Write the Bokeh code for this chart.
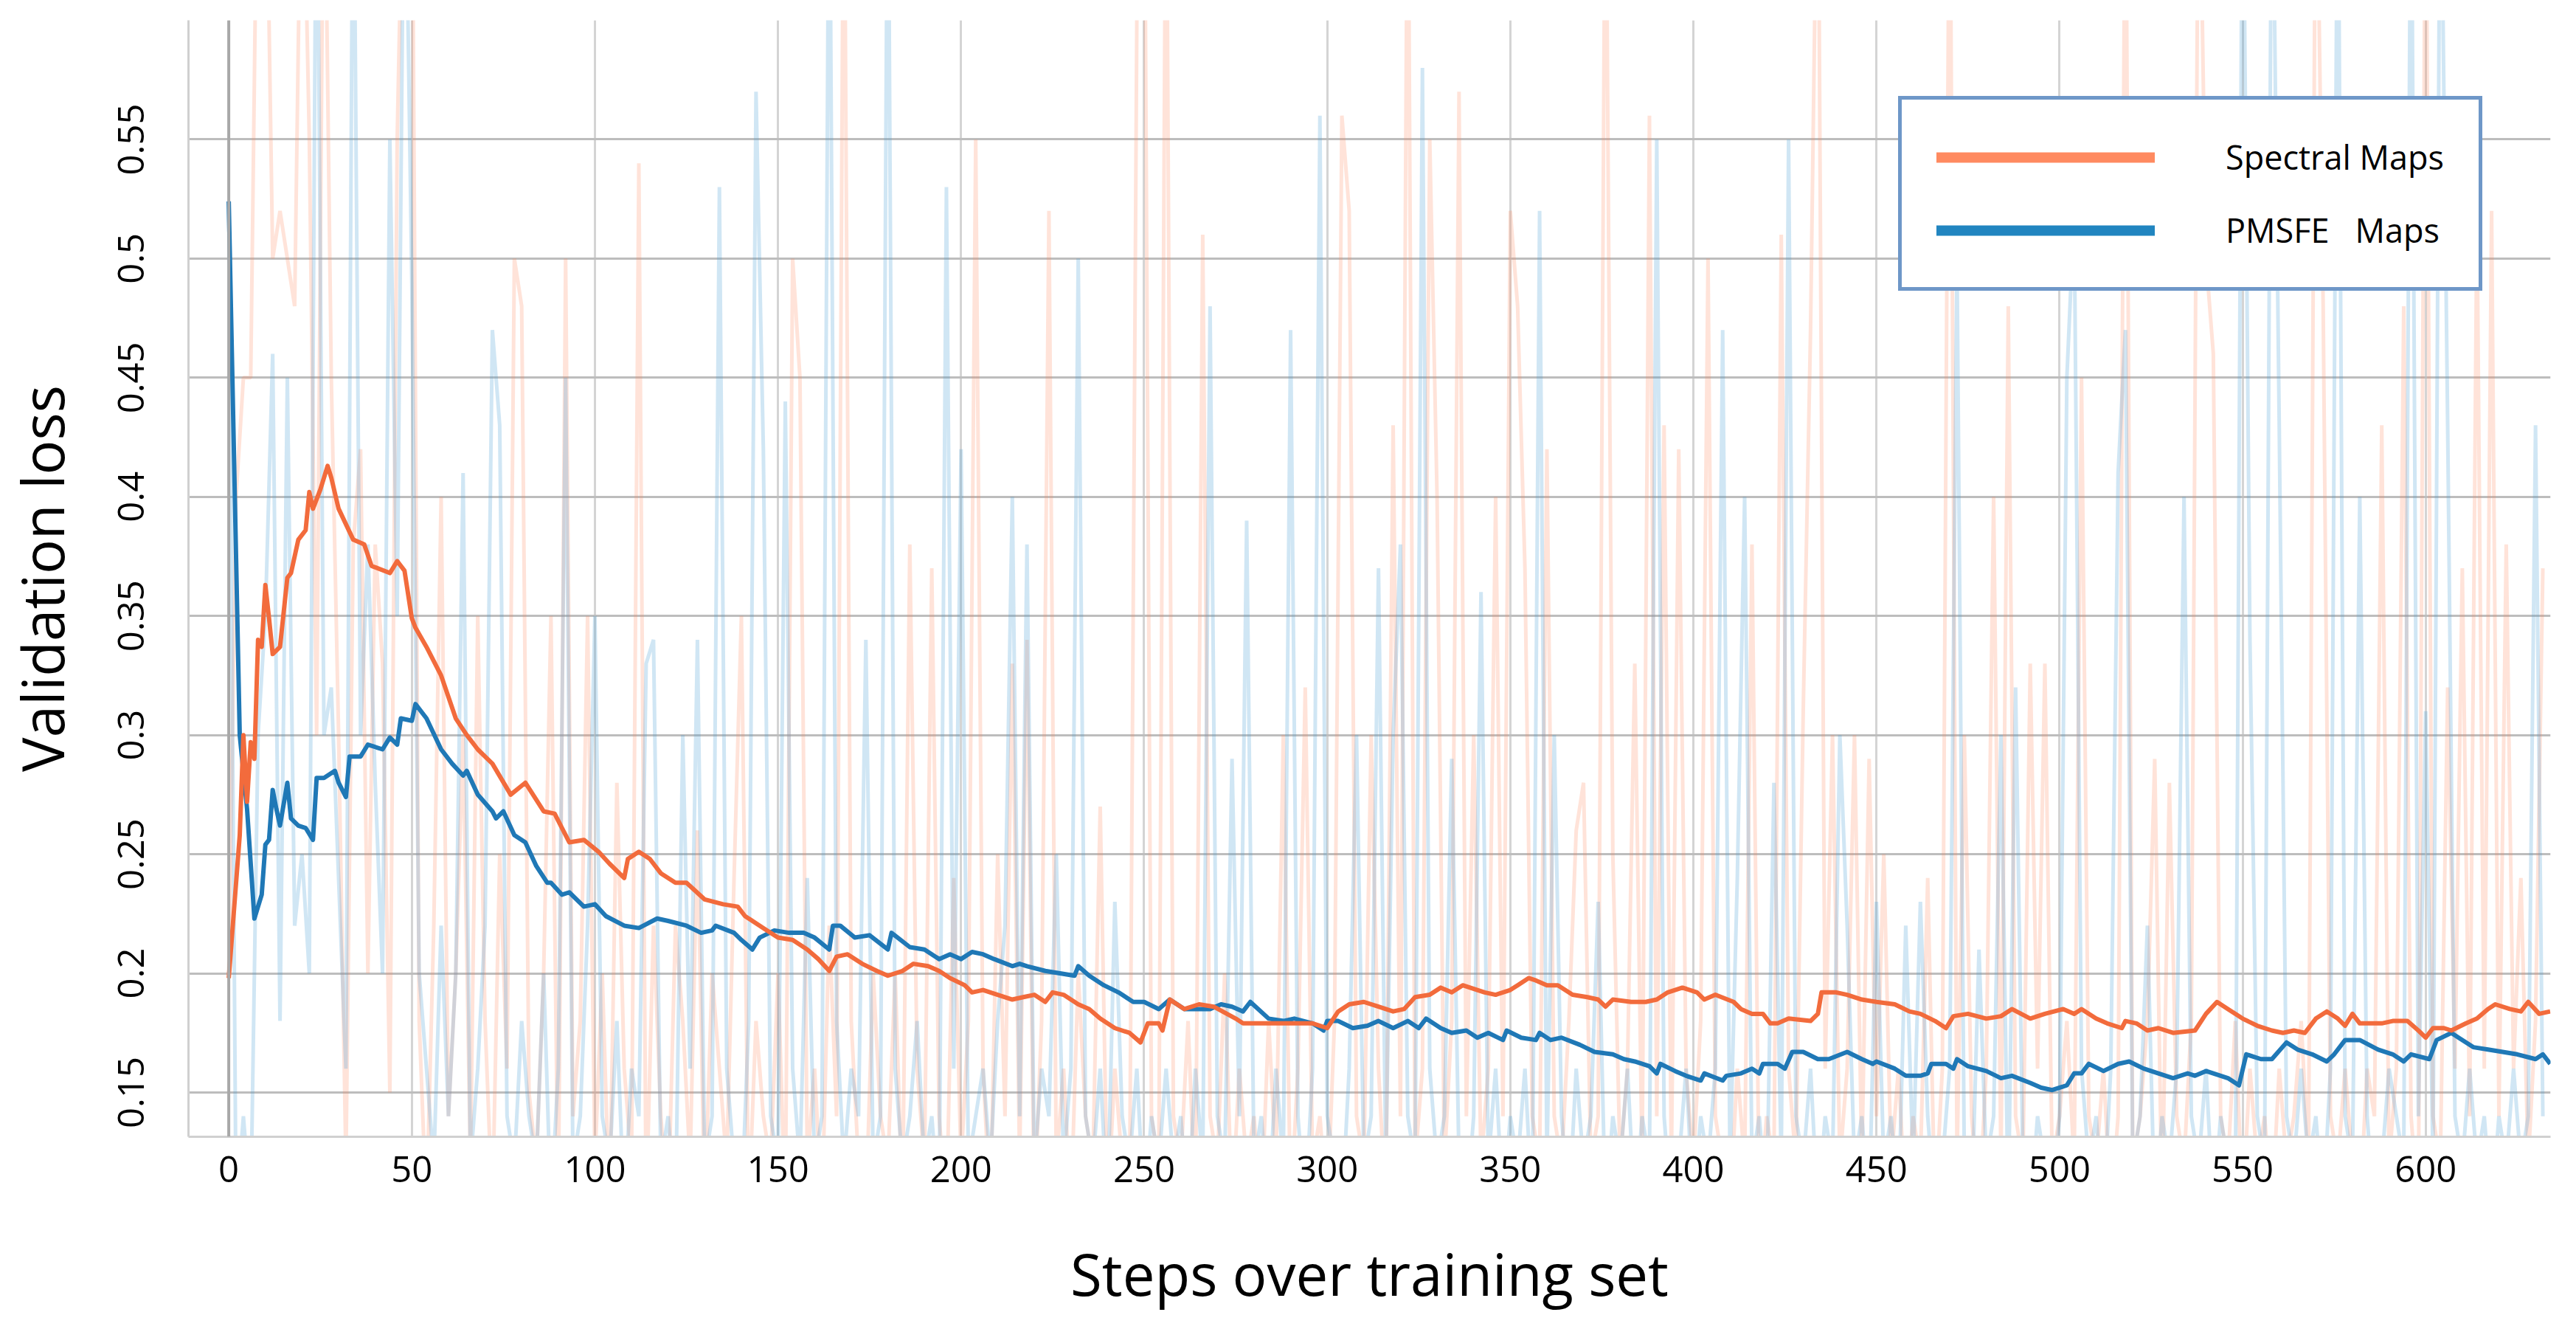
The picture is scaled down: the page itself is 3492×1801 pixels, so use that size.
from bokeh.plotting import figure
from bokeh.models import Range1d, FixedTicker, Span, Legend, LegendItem
from bokeh.embed import file_html
from bokeh.resources import INLINE

# ---------------- data ----------------
x_ticks = [0, 50, 100, 150, 200, 250, 300, 350, 400, 450, 500, 550, 600]
y_ticks = [0.15, 0.2, 0.25, 0.3, 0.35, 0.4, 0.45, 0.5, 0.55, 0.6]
y_tick_labels = ["0.15", "0.2", "0.25", "0.3", "0.35", "0.4", "0.45", "0.5", "0.55", ""]

series_names = ["Spectral Maps", "PMSFE   Maps"]

# smoothed curves
spectral_steps = [0, 3, 4, 5, 6, 7, 8, 9, 10, 11, 12, 14, 16, 17, 19, 21, 22, 23, 25, 27,
                  28, 30, 34, 37, 39, 44, 46, 48, 50, 51, 54, 58, 62, 65, 68, 72, 77, 81, 86, 89,
                  93, 97, 101, 104, 108, 109, 112, 115, 118, 122, 125, 130, 135, 139, 141, 146, 150, 154, 158, 161,
                  164, 166, 169, 173, 177, 180, 184, 187, 191, 194, 197, 201, 203, 206, 210, 214, 217, 220, 223, 225,
                  228, 232, 235, 238, 242, 246, 249, 251, 254, 255, 257, 261, 265, 269, 275, 277, 282, 289, 296, 300,
                  303, 306, 310, 314, 318, 321, 324, 328, 331, 334, 337, 341, 343, 346, 350, 352, 355, 357, 360, 363,
                  367, 371, 374, 376, 378, 383, 387, 390, 393, 397, 401, 403, 406, 411, 413, 416, 419, 421, 423, 426,
                  432, 434, 435, 439, 442, 446, 450, 455, 459, 462, 466, 469, 471, 475, 480, 484, 487, 492, 496, 501,
                  504, 506, 510, 513, 517, 518, 521, 524, 527, 531, 537, 540, 543, 546, 550, 554, 558, 561, 564, 567,
                  570, 573, 576, 578, 580, 582, 588, 591, 595, 598, 600, 602, 605, 607, 611, 614, 617, 619, 623, 626,
                  628, 631, 634]
spectral_loss = [0.198, 0.258, 0.300, 0.272, 0.297, 0.290, 0.340, 0.337, 0.363, 0.349, 0.334, 0.337, 0.366, 0.368, 0.382, 0.386, 0.402, 0.395, 0.403, 0.413,
                 0.408, 0.395, 0.382, 0.380, 0.371, 0.368, 0.373, 0.369, 0.349, 0.345, 0.337, 0.325, 0.307, 0.300, 0.294, 0.288, 0.275, 0.280, 0.268, 0.267,
                 0.255, 0.256, 0.251, 0.246, 0.240, 0.248, 0.251, 0.248, 0.242, 0.238, 0.238, 0.231, 0.229, 0.228, 0.224, 0.219, 0.215, 0.214, 0.210, 0.206,
                 0.201, 0.207, 0.208, 0.204, 0.201, 0.199, 0.201, 0.204, 0.203, 0.201, 0.198, 0.195, 0.192, 0.193, 0.191, 0.189, 0.190, 0.191, 0.188, 0.192,
                 0.191, 0.187, 0.185, 0.181, 0.177, 0.175, 0.171, 0.179, 0.179, 0.176, 0.189, 0.185, 0.187, 0.186, 0.181, 0.179, 0.179, 0.179, 0.179, 0.177,
                 0.184, 0.187, 0.188, 0.186, 0.184, 0.185, 0.190, 0.191, 0.194, 0.192, 0.195, 0.193, 0.192, 0.191, 0.193, 0.195, 0.198, 0.197, 0.195, 0.195,
                 0.191, 0.190, 0.189, 0.186, 0.189, 0.188, 0.188, 0.189, 0.192, 0.194, 0.192, 0.189, 0.191, 0.188, 0.185, 0.183, 0.183, 0.179, 0.179, 0.181,
                 0.180, 0.183, 0.192, 0.192, 0.191, 0.189, 0.188, 0.187, 0.184, 0.183, 0.180, 0.177, 0.182, 0.183, 0.181, 0.182, 0.185, 0.181, 0.183, 0.185,
                 0.183, 0.185, 0.181, 0.179, 0.177, 0.180, 0.179, 0.176, 0.177, 0.175, 0.176, 0.183, 0.188, 0.185, 0.181, 0.178, 0.176, 0.175, 0.176, 0.175,
                 0.181, 0.184, 0.181, 0.178, 0.183, 0.179, 0.179, 0.180, 0.180, 0.176, 0.173, 0.177, 0.177, 0.176, 0.179, 0.181, 0.185, 0.187, 0.185, 0.184,
                 0.188, 0.183, 0.184]

pmsfe_steps = [0, 3, 5, 7, 9, 10, 11, 12, 13, 14, 16, 17, 19, 21, 23, 24, 26, 29, 30, 32,
               33, 36, 38, 42, 44, 46, 47, 50, 51, 54, 58, 61, 64, 65, 68, 72, 73, 75, 78, 81,
               84, 87, 88, 91, 93, 97, 100, 103, 108, 112, 117, 120, 125, 129, 132, 133, 138, 140, 143, 145,
               149, 153, 157, 160, 164, 165, 167, 171, 175, 180, 181, 186, 190, 194, 197, 200, 203, 206, 209, 214,
               216, 218, 223, 227, 231, 232, 235, 239, 243, 247, 250, 254, 257, 261, 265, 268, 271, 274, 277, 279,
               284, 288, 291, 296, 299, 300, 303, 307, 311, 314, 318, 322, 325, 327, 331, 334, 338, 341, 344, 348,
               349, 353, 357, 358, 361, 364, 369, 373, 378, 381, 384, 388, 390, 391, 395, 398, 402, 403, 408, 409,
               413, 416, 418, 419, 423, 425, 427, 430, 434, 437, 442, 446, 449, 450, 455, 458, 462, 464, 465, 469,
               471, 472, 475, 480, 484, 487, 492, 495, 498, 502, 504, 506, 508, 512, 516, 519, 523, 527, 531, 535,
               537, 540, 542, 546, 549, 551, 555, 558, 562, 565, 569, 573, 575, 578, 582, 587, 591, 594, 596, 601,
               603, 607, 609, 613, 617, 621, 625, 630, 632, 634]
pmsfe_loss = [0.524, 0.300, 0.269, 0.223, 0.233, 0.254, 0.256, 0.277, 0.269, 0.262, 0.280, 0.265, 0.262, 0.261, 0.256, 0.282, 0.282, 0.285, 0.280, 0.274,
              0.291, 0.291, 0.296, 0.294, 0.299, 0.296, 0.307, 0.306, 0.313, 0.307, 0.294, 0.288, 0.283, 0.285, 0.275, 0.268, 0.265, 0.268, 0.258, 0.255,
              0.245, 0.238, 0.238, 0.233, 0.234, 0.228, 0.229, 0.224, 0.220, 0.219, 0.223, 0.222, 0.220, 0.217, 0.218, 0.220, 0.217, 0.214, 0.210, 0.215,
              0.218, 0.217, 0.217, 0.215, 0.210, 0.220, 0.220, 0.215, 0.216, 0.210, 0.217, 0.211, 0.210, 0.206, 0.208, 0.206, 0.209, 0.208, 0.206, 0.203,
              0.204, 0.203, 0.201, 0.200, 0.199, 0.203, 0.199, 0.195, 0.192, 0.188, 0.188, 0.185, 0.189, 0.185, 0.185, 0.185, 0.187, 0.186, 0.184, 0.188,
              0.181, 0.180, 0.181, 0.179, 0.176, 0.180, 0.180, 0.177, 0.178, 0.180, 0.177, 0.180, 0.177, 0.181, 0.177, 0.175, 0.176, 0.173, 0.175, 0.172,
              0.176, 0.173, 0.172, 0.175, 0.172, 0.173, 0.170, 0.167, 0.166, 0.164, 0.163, 0.161, 0.158, 0.162, 0.159, 0.157, 0.155, 0.158, 0.155, 0.157,
              0.158, 0.160, 0.158, 0.162, 0.162, 0.160, 0.167, 0.167, 0.164, 0.164, 0.167, 0.164, 0.162, 0.163, 0.160, 0.157, 0.157, 0.158, 0.162, 0.162,
              0.160, 0.164, 0.161, 0.159, 0.156, 0.157, 0.154, 0.152, 0.151, 0.153, 0.158, 0.158, 0.162, 0.159, 0.162, 0.163, 0.160, 0.158, 0.156, 0.158,
              0.157, 0.159, 0.158, 0.156, 0.153, 0.166, 0.164, 0.164, 0.171, 0.168, 0.166, 0.163, 0.166, 0.172, 0.172, 0.168, 0.166, 0.163, 0.166, 0.164,
              0.172, 0.175, 0.173, 0.169, 0.168, 0.167, 0.166, 0.164, 0.166, 0.162]

# raw (unsmoothed) validation loss, one value every 2 steps
spectral_raw = [
    0.20, 0.40, 0.45, 0.45, 0.70, 0.70, 0.50, 0.52, 0.50, 0.48,
    0.70, 0.55, 0.30, 0.70, 0.45, 0.30, 0.12, 0.38, 0.42, 0.20,
    0.38, 0.33, 0.15, 0.55, 0.70, 0.70, 0.18, 0.10, 0.22, 0.40,
    0.14, 0.20, 0.30, 0.12, 0.35, 0.18, 0.10, 0.25, 0.16, 0.50,
    0.48, 0.15, 0.12, 0.20, 0.35, 0.10, 0.50, 0.14, 0.18, 0.35,
    0.12, 0.20, 0.10, 0.28, 0.16, 0.12, 0.54, 0.10, 0.22, 0.14,
    0.10, 0.22, 0.18, 0.12, 0.26, 0.10, 0.20, 0.16, 0.12, 0.24,
    0.35, 0.10, 0.18, 0.14, 0.12, 0.20, 0.10, 0.50, 0.45, 0.12,
    0.16, 0.10, 0.22, 0.14, 0.70, 0.18, 0.12, 0.10, 0.20, 0.14,
    0.12, 0.20, 0.10, 0.38, 0.16, 0.12, 0.37, 0.14, 0.10, 0.24,
    0.12, 0.18, 0.55, 0.16, 0.10, 0.25, 0.14, 0.33, 0.12, 0.34,
    0.10, 0.18, 0.52, 0.12, 0.16, 0.10, 0.20, 0.14, 0.12, 0.27,
    0.10, 0.16, 0.12, 0.10, 0.60, 0.70, 0.14, 0.12, 0.70, 0.14,
    0.12, 0.18, 0.10, 0.51, 0.14, 0.12, 0.20, 0.10, 0.16, 0.12,
    0.14, 0.10, 0.18, 0.12, 0.30, 0.10, 0.16, 0.32, 0.12, 0.14,
    0.10, 0.18, 0.56, 0.52, 0.14, 0.12, 0.30, 0.16, 0.10, 0.43,
    0.14, 0.70, 0.12, 0.16, 0.55, 0.40, 0.12, 0.18, 0.57, 0.14,
    0.30, 0.12, 0.16, 0.40, 0.14, 0.52, 0.48, 0.37, 0.14, 0.12,
    0.42, 0.14, 0.12, 0.18, 0.26, 0.28, 0.12, 0.14, 0.70, 0.25,
    0.12, 0.16, 0.33, 0.12, 0.56, 0.14, 0.43, 0.12, 0.42, 0.16,
    0.12, 0.18, 0.50, 0.14, 0.12, 0.10, 0.16, 0.12, 0.38, 0.10,
    0.14, 0.12, 0.51, 0.16, 0.12, 0.31, 0.47, 0.70, 0.16, 0.30,
    0.12, 0.16, 0.30, 0.12, 0.29, 0.14, 0.25, 0.12, 0.16, 0.10,
    0.14, 0.12, 0.24, 0.10, 0.16, 0.70, 0.12, 0.30, 0.14, 0.10,
    0.16, 0.40, 0.12, 0.48, 0.14, 0.12, 0.33, 0.16, 0.33, 0.12,
    0.14, 0.18, 0.12, 0.45, 0.14, 0.12, 0.16, 0.10, 0.14, 0.70,
    0.12, 0.14, 0.18, 0.29, 0.10, 0.28, 0.14, 0.12, 0.18, 0.70,
    0.50, 0.46, 0.14, 0.12, 0.18, 0.10, 0.16, 0.12, 0.14, 0.10,
    0.16, 0.12, 0.14, 0.18, 0.12, 0.70, 0.48, 0.14, 0.12, 0.16,
    0.12, 0.10, 0.16, 0.14, 0.43, 0.12, 0.16, 0.48, 0.14, 0.10,
    0.70, 0.14, 0.12, 0.32, 0.16, 0.37, 0.14, 0.52, 0.16, 0.52,
    0.14, 0.38, 0.16, 0.24, 0.12, 0.18, 0.37]

pmsfe_raw = [
    0.52, 0.10, 0.14, 0.10, 0.30, 0.35, 0.46, 0.18, 0.45, 0.22,
    0.25, 0.20, 0.70, 0.30, 0.32, 0.24, 0.16, 0.70, 0.30, 0.38,
    0.28, 0.20, 0.55, 0.35, 0.70, 0.49, 0.20, 0.16, 0.12, 0.22,
    0.14, 0.20, 0.41, 0.12, 0.16, 0.22, 0.47, 0.43, 0.14, 0.12,
    0.18, 0.14, 0.12, 0.20, 0.10, 0.16, 0.45, 0.12, 0.14, 0.22,
    0.35, 0.14, 0.12, 0.18, 0.10, 0.16, 0.14, 0.33, 0.34, 0.12,
    0.14, 0.10, 0.30, 0.16, 0.34, 0.12, 0.14, 0.53, 0.16, 0.12,
    0.10, 0.18, 0.57, 0.42, 0.14, 0.12, 0.44, 0.16, 0.12, 0.24,
    0.12, 0.14, 0.70, 0.18, 0.12, 0.16, 0.14, 0.34, 0.12, 0.14,
    0.70, 0.16, 0.12, 0.14, 0.18, 0.12, 0.14, 0.10, 0.53, 0.16,
    0.42, 0.12, 0.14, 0.16, 0.12, 0.18, 0.22, 0.40, 0.14, 0.38,
    0.12, 0.16, 0.14, 0.25, 0.12, 0.16, 0.50, 0.14, 0.12, 0.16,
    0.10, 0.23, 0.14, 0.12, 0.16, 0.10, 0.14, 0.12, 0.16, 0.12,
    0.14, 0.10, 0.16, 0.12, 0.48, 0.14, 0.12, 0.29, 0.14, 0.39,
    0.12, 0.14, 0.10, 0.16, 0.12, 0.47, 0.14, 0.10, 0.16, 0.56,
    0.14, 0.12, 0.10, 0.16, 0.30, 0.12, 0.14, 0.37, 0.12, 0.30,
    0.38, 0.14, 0.12, 0.58, 0.16, 0.12, 0.14, 0.29, 0.12, 0.10,
    0.14, 0.36, 0.12, 0.16, 0.10, 0.14, 0.12, 0.16, 0.10, 0.52,
    0.12, 0.30, 0.14, 0.10, 0.16, 0.12, 0.14, 0.23, 0.10, 0.14,
    0.12, 0.16, 0.10, 0.14, 0.12, 0.55, 0.14, 0.10, 0.12, 0.16,
    0.10, 0.14, 0.12, 0.16, 0.47, 0.12, 0.24, 0.40, 0.12, 0.14,
    0.10, 0.28, 0.12, 0.55, 0.14, 0.12, 0.16, 0.10, 0.14, 0.12,
    0.30, 0.22, 0.12, 0.14, 0.10, 0.23, 0.12, 0.14, 0.10, 0.22,
    0.12, 0.23, 0.14, 0.10, 0.12, 0.16, 0.50, 0.12, 0.10, 0.21,
    0.12, 0.14, 0.30, 0.10, 0.32, 0.12, 0.10, 0.14, 0.12, 0.10,
    0.14, 0.45, 0.52, 0.16, 0.12, 0.14, 0.10, 0.16, 0.41, 0.47,
    0.12, 0.14, 0.22, 0.10, 0.14, 0.12, 0.16, 0.40, 0.14, 0.12,
    0.16, 0.10, 0.14, 0.12, 0.10, 0.70, 0.34, 0.14, 0.12, 0.70,
    0.43, 0.14, 0.12, 0.16, 0.12, 0.14, 0.10, 0.16, 0.70, 0.14,
    0.12, 0.40, 0.14, 0.10, 0.12, 0.16, 0.14, 0.12, 0.70, 0.14,
    0.31, 0.12, 0.70, 0.43, 0.14, 0.12, 0.16, 0.12, 0.14, 0.10,
    0.14, 0.12, 0.16, 0.12, 0.14, 0.43, 0.14]

spectral_raw_steps = [2 * i for i in range(len(spectral_raw))]
pmsfe_raw_steps = [2 * i for i in range(len(pmsfe_raw))]

# ---------------- styling ----------------
ORANGE = "#f26b3c"
BLUE = "#1f78b6"
ORANGE_LEG = "#ff8a60"
BLUE_LEG = "#2185c0"
FONT = "Open Sans"

p = figure(width=3476, height=1785,
           x_range=Range1d(-11.0, 634.1), y_range=Range1d(0.1314, 0.6),
           output_backend="svg", toolbar_location=None,
           min_border_left=244, min_border_right=19,
           min_border_top=27, min_border_bottom=245)
p.outline_line_color = None
p.background_fill_color = "white"
p.border_fill_color = "white"

# grid
p.xgrid.ticker = FixedTicker(ticks=x_ticks)
p.ygrid.ticker = FixedTicker(ticks=y_ticks)
p.ygrid.grid_line_color = "#bdbdbd"
p.ygrid.grid_line_width = 3
p.xgrid.grid_line_color = "#d4d4d4"
p.xgrid.grid_line_width = 3

# x axis
xa = p.xaxis[0]
xa.ticker = FixedTicker(ticks=x_ticks)
xa.axis_line_color = "#d0d0d0"
xa.axis_line_width = 3
xa.major_tick_out = 0
xa.major_tick_in = 0
xa.minor_tick_out = 0
xa.minor_tick_in = 0
xa.major_label_text_font = FONT
xa.major_label_text_font_size = "49px"
xa.major_label_text_color = "black"
xa.major_label_standoff = 26
xa.axis_label = "Steps over training set"
xa.axis_label_text_font = FONT
xa.axis_label_text_font_size = "78px"
xa.axis_label_text_font_style = "normal"
xa.axis_label_text_color = "black"
xa.axis_label_standoff = 68

# y axis
ya = p.yaxis[0]
ya.ticker = FixedTicker(ticks=y_ticks)
ya.major_label_overrides = {t: lab for t, lab in zip(y_ticks, y_tick_labels)}
ya.major_label_orientation = "vertical"
ya.axis_line_color = "#d0d0d0"
ya.axis_line_width = 3
ya.major_tick_out = 0
ya.major_tick_in = 0
ya.minor_tick_out = 0
ya.minor_tick_in = 0
ya.major_label_text_font = FONT
ya.major_label_text_font_size = "49px"
ya.major_label_text_color = "black"
ya.major_label_standoff = 60
ya.axis_label = "Validation loss"
ya.axis_label_text_font = FONT
ya.axis_label_text_font_size = "78px"
ya.axis_label_text_font_style = "normal"
ya.axis_label_text_color = "black"
ya.axis_label_standoff = 48

# darker line at step 0
p.add_layout(Span(location=x_ticks[0], dimension="height", line_color="#a8a8a8", line_width=4))

# raw series (faint)
p.line(spectral_raw_steps, spectral_raw, line_color=ORANGE_LEG, line_alpha=0.24, line_width=5)
p.line(pmsfe_raw_steps, pmsfe_raw, line_color="#4a9fd4", line_alpha=0.26, line_width=5)

# smoothed series
p.line(pmsfe_steps, pmsfe_loss, line_color=BLUE, line_width=6, line_join="round")
p.line(spectral_steps, spectral_loss, line_color=ORANGE, line_width=6, line_join="round")

# legend (proxy renderers carrying the legend's thick strokes; no visible data)
nan = float("nan")
leg_s = p.line(x=[nan], y=[nan], line_color=ORANGE_LEG, line_width=14, line_cap="round")
leg_b = p.line(x=[nan], y=[nan], line_color=BLUE_LEG, line_width=14, line_cap="round")
legend = Legend(items=[LegendItem(label=series_names[0], renderers=[leg_s]),
                       LegendItem(label=series_names[1], renderers=[leg_b])],
                location=(2318, 1146), margin=0,
                glyph_width=296, glyph_height=60, label_height=60,
                label_standoff=96, spacing=38, padding=47,
                border_line_color="#6e97c8", border_line_width=5, border_line_alpha=1.0,
                background_fill_color="white", background_fill_alpha=1.0,
                label_text_font=FONT, label_text_font_size="45px",
                label_text_color="black")
p.add_layout(legend)

open("out.html", "w").write(file_html(p, INLINE))
